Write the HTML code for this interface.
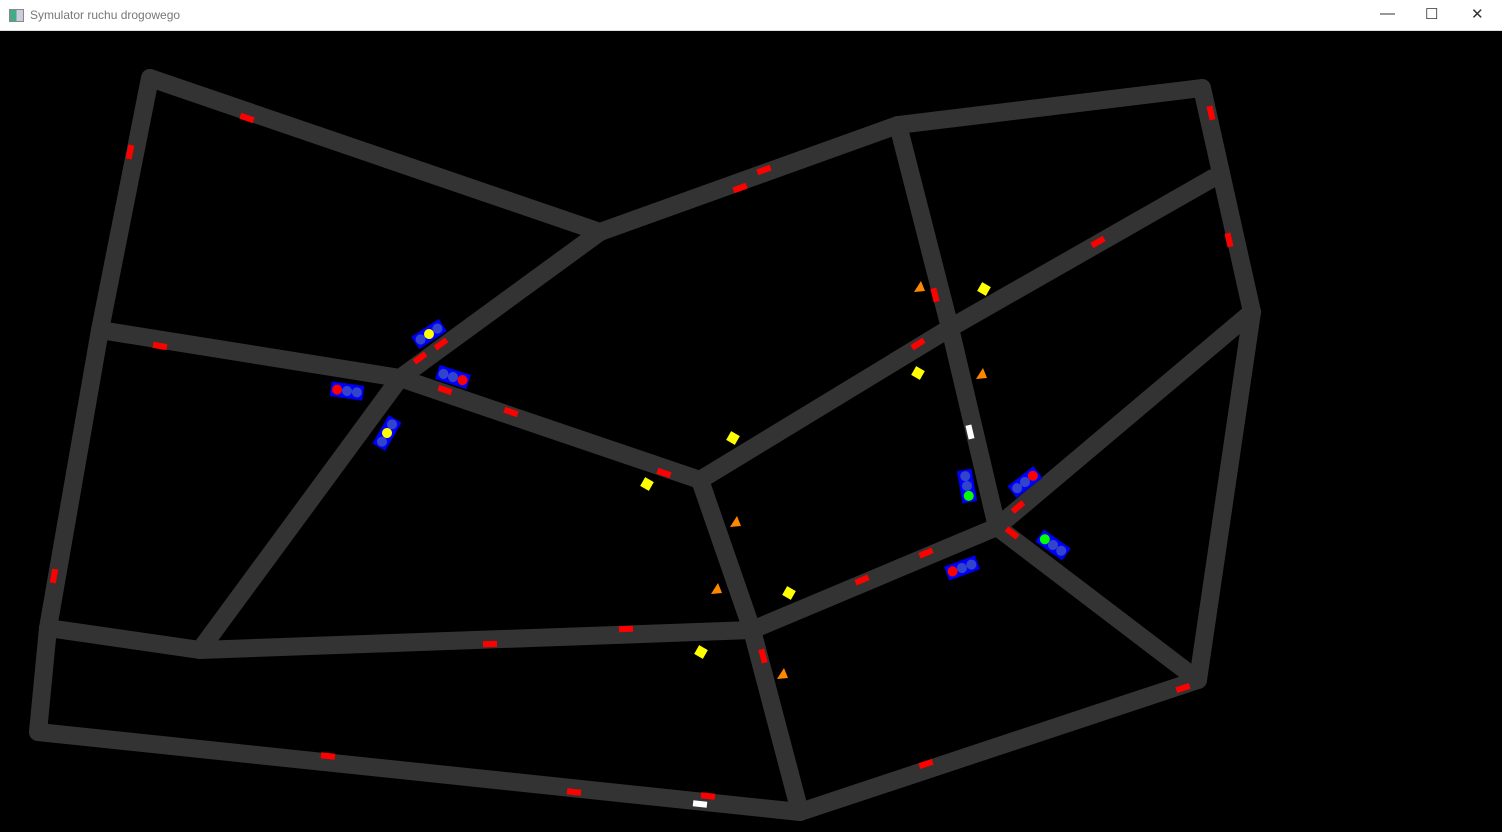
<!DOCTYPE html>
<html><head><meta charset="utf-8"><style>
body{margin:0;width:1502px;height:832px;overflow:hidden;background:#000;font-family:"Liberation Sans",sans-serif}
#tb{position:absolute;left:0;top:0;width:1502px;height:31px;background:#fff;border-bottom:1px solid #ddd;box-sizing:border-box}
#ttl{position:absolute;left:30px;top:8px;font-size:12px;color:#777}
#ico{position:absolute;left:9px;top:9px;width:13px;height:11px;border:1px solid #888;background:linear-gradient(90deg,#4a8 0 50%,#ccd 50%)}
.wb{position:absolute;top:5px;font-size:15px;color:#333}
svg{position:absolute;left:0;top:0}
</style></head><body>
<div id="tb">
<div id="ico"></div>
<div id="ttl">Symulator ruchu drogowego</div>
<div class="wb" style="left:1380px">—</div>
<div class="wb" style="left:1425px">☐</div>
<div class="wb" style="left:1471px">✕</div>
</div>
<svg id="s" width="1502" height="832"></svg>
<script>
const nodes={A:[150,78],B:[600,232],C:[898,125],D:[1202,88],E:[1252,312],G:[950,328],H:[100,330],I:[400,378],J:[700,480],K:[997,527],L:[1198,680],M:[752,630],N:[200,650],O:[48,628],P:[38,732],Q:[800,812],F:[1213,178]};
const edges=[["A","B"],["B","C"],["C","D"],["D","E"],["A","H"],["H","O"],["O","P"],["P","Q"],["Q","L"],["L","E"],["E","K"],["K","L"],["C","G"],["G","K"],["F","G"],["G","J"],["J","I"],["I","H"],["I","B"],["I","N"],["N","O"],["N","M"],["M","J"],["M","K"],["M","Q"]];
const cars=[[247,118,"A","B"],[130,152,"A","H"],[740,188,"B","C"],[764,170,"B","C"],[1211,113,"D","E"],[1229,240,"D","E"],[1098,242,"F","G"],[935,295,"C","G"],[918,344,"G","J"],[160,346,"H","I"],[420,358,"I","B"],[441,344,"I","B"],[445,390,"I","J"],[511,412,"I","J"],[664,473,"I","J"],[54,576,"H","O"],[490,644,"N","M"],[626,629,"N","M"],[862,580,"M","K"],[926,553,"M","K"],[1018,507,"K","E"],[1012,533,"K","L"],[763,656,"M","Q"],[1183,688,"Q","L"],[926,764,"Q","L"],[328,756,"P","Q"],[574,792,"P","Q"],[708,796,"P","Q"]];
const whites=[[970,432,"G","K"],[700,804,"P","Q"]];
const diamonds=[[984,289],[918,373],[733,438],[647,484],[789,593],[701,652]];
const tris=[[919,287],[981,374],[735,522],[716,589],[782,674]];
const lights=[[429,334,-33,[0,"#ff0",0]],[453,377,18,[0,0,"#f00"]],[347,391,8,["#f00",0,0]],[387,433,-60,[0,"#ff0",0]],[967,486,80,[0,0,"#0f0"]],[1025,482,-38,[0,0,"#f00"]],[1053,545,35,["#0f0",0,0]],[962,568,-20,["#f00",0,0]]];
const s=document.getElementById('s');const NS="http://www.w3.org/2000/svg";
function mk(t,a){const e=document.createElementNS(NS,t);for(const k in a)e.setAttribute(k,a[k]);s.appendChild(e);return e;}
function ang(a,b){const p=nodes[a],q=nodes[b];return Math.atan2(q[1]-p[1],q[0]-p[0])*180/Math.PI;}
edges.forEach(([a,b])=>{const e=mk('line',{x1:nodes[a][0],y1:nodes[a][1],x2:nodes[b][0],y2:nodes[b][1],stroke:'#333','stroke-width':18,'stroke-linecap':'round'});

});
function car(c,col,nm){const r=mk('rect',{x:-7,y:-3,width:14,height:6,fill:col,transform:`translate(${c[0]},${c[1]}) rotate(${ang(c[2],c[3])})`});

}
cars.forEach(c=>car(c,'#f00','car'));
whites.forEach(c=>car(c,'#fff','white-car'));
diamonds.forEach(d=>{const r=mk('rect',{x:-5,y:-5,width:10,height:10,fill:'#ff0',transform:`translate(${d[0]},${d[1]}) rotate(30)`});

});
tris.forEach(d=>{const p=mk('polygon',{points:`${d[0]-5},${d[1]+5} ${d[0]+6},${d[1]+4} ${d[0]+2},${d[1]-6}`,fill:'#f80'});

});
lights.forEach(l=>{const g=document.createElementNS(NS,'g');g.setAttribute('transform',`translate(${l[0]},${l[1]}) rotate(${l[2]})`);s.appendChild(g);


const r=document.createElementNS(NS,'rect');r.setAttribute('x',-16);r.setAttribute('y',-7);r.setAttribute('width',32);r.setAttribute('height',14);r.setAttribute('fill','#00f');r.setAttribute('stroke','#0000cc');g.appendChild(r);
l[3].forEach((c,i)=>{const ci=document.createElementNS(NS,'circle');ci.setAttribute('cx',-10+i*10);ci.setAttribute('cy',0);ci.setAttribute('r',5);ci.setAttribute('fill',c||'#3344cc');g.appendChild(ci);});});
</script>
</body></html>
